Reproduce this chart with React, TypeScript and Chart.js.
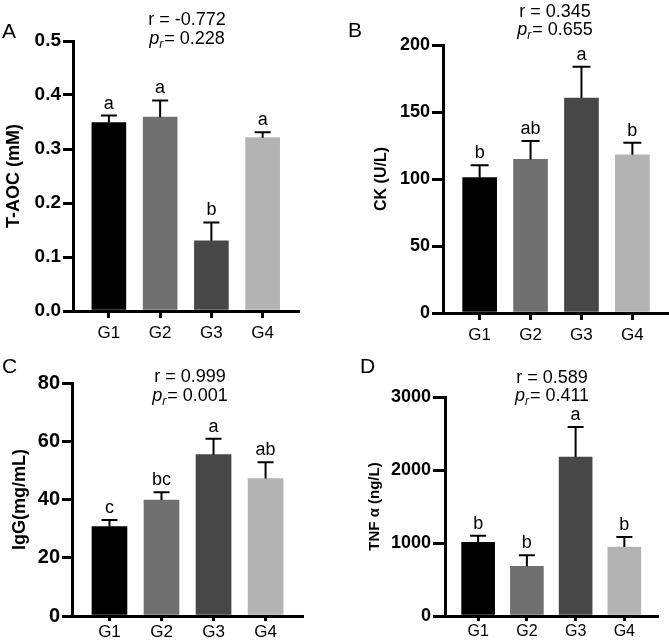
import React, { useEffect, useRef } from 'react';
import { Chart, registerables } from 'chart.js';

Chart.register(...registerables);

const W = 669;
const H = 644;
const FONT = '"Liberation Sans", Arial, Helvetica, sans-serif';

// ---------------- data ----------------
const groups = ['G1', 'G2', 'G3', 'G4'];
const barColors = ['#000000', '#707070', '#474747', '#b3b3b3'];

const taocMean = [0.349, 0.359, 0.13, 0.321];
const taocErr = [0.013, 0.031, 0.034, 0.01];
const taocLetters = ['a', 'a', 'b', 'a'];

const ckMean = [101, 114.6, 160.4, 118.1];
const ckErr = [9.2, 13.7, 23.4, 8.9];
const ckLetters = ['b', 'ab', 'a', 'b'];

const iggMean = [30.7, 39.8, 55.4, 47.2];
const iggErr = [2.3, 2.7, 5.5, 5.6];
const iggLetters = ['c', 'bc', 'a', 'ab'];

const tnfMean = [1009, 680, 2178, 945];
const tnfErr = [91, 151, 411, 137];
const tnfLetters = ['b', 'b', 'a', 'b'];

const panelLetters = ['A', 'B', 'C', 'D'];
const yTitles = ['T-AOC (mM)', 'CK (U/L)', 'IgG(mg/mL)', 'TNF \u03b1 (ng/L)'];
const rValues = ['-0.772', '0.345', '0.999', '0.589'];
const pValues = ['0.228', '0.655', '0.001', '0.411'];
const yMax = [0.5, 200, 80, 3000];
const yStep = [0.1, 50, 20, 1000];
const yDecimals = [1, 0, 0, 0];

const means = [taocMean, ckMean, iggMean, tnfMean];
const errs = [taocErr, ckErr, iggErr, tnfErr];
const letters = [taocLetters, ckLetters, iggLetters, tnfLetters];

// ---------------- layout ----------------
const layouts = [
  { left: 73, right: 298, top: 41, bottom: 311, xAxisH: 40, titleX: 14, titleSize: 18, tickSize: 19, yTickLen: 10, yTickPad: 2, xTickLen: 7, xTickPad: 5, xMin: -0.7, xMax: 3.69, barW: 34, headX: 187, head1Y: 25, head2Y: 44, letterX: 2, letterY: 38, xLabelSize: 17, capHalf: 8 },
  { left: 443, right: 668, top: 45, bottom: 313, xAxisH: 40, titleX: 382, titleSize: 16, tickSize: 18, yTickLen: 11, yTickPad: 2, xTickLen: 7, xTickPad: 5, xMin: -0.72, xMax: 3.7, barW: 34, headX: 555, head1Y: 17, head2Y: 35, letterX: 348, letterY: 37, xLabelSize: 17, capHalf: 9 },
  { left: 72, right: 302, top: 383, bottom: 616, xAxisH: 28, titleX: 20, titleSize: 18, tickSize: 20, yTickLen: 10, yTickPad: 2, xTickLen: 5, xTickPad: 1, xMin: -0.72, xMax: 3.7, barW: 35, headX: 190, head1Y: 382, head2Y: 401, letterX: 2, letterY: 373, xLabelSize: 17, capHalf: 8 },
  { left: 445, right: 657, top: 397, bottom: 616, xAxisH: 28, titleX: 374.5, titleSize: 15, tickSize: 18, yTickLen: 12, yTickPad: 2, xTickLen: 5, xTickPad: 1, xMin: -0.68, xMax: 3.67, barW: 33, headX: 552, head1Y: 383, head2Y: 401, letterX: 360, letterY: 373, xLabelSize: 16, capHalf: 8 },
];

function makeOverlay(idx: number) {
  const L = layouts[idx];
  return {
    id: 'overlay' + idx,
    afterDatasetsDraw(chart: any) {
      const ctx = chart.ctx;
      const xs = chart.scales.x;
      const ys = chart.scales.y;
      ctx.save();
      ctx.strokeStyle = '#000';
      ctx.lineWidth = 2;
      ctx.fillStyle = '#000';
      ctx.font = `18px ${FONT}`;
      ctx.textAlign = 'center';
      ctx.textBaseline = 'alphabetic';
      means[idx].forEach((m, i) => {
        const cx = xs.getPixelForValue(i);
        const y0 = ys.getPixelForValue(m);
        const y1 = ys.getPixelForValue(m + errs[idx][i]);
        ctx.beginPath();
        ctx.moveTo(cx, y0);
        ctx.lineTo(cx, y1);
        ctx.moveTo(cx - L.capHalf, y1);
        ctx.lineTo(cx + L.capHalf, y1);
        ctx.stroke();
        ctx.fillText(letters[idx][i], cx, y1 - 7);
      });
      ctx.restore();
    },
    afterDraw(chart: any) {
      const ctx = chart.ctx;
      ctx.save();
      ctx.fillStyle = '#000';
      ctx.textBaseline = 'alphabetic';
      // panel letter
      ctx.font = `21px ${FONT}`;
      ctx.textAlign = 'left';
      ctx.fillText(panelLetters[idx], L.letterX, L.letterY);
      // r line
      ctx.font = `18px ${FONT}`;
      ctx.textAlign = 'center';
      ctx.fillText(`r = ${rValues[idx]}`, L.headX, L.head1Y);
      // p_r line
      const fp = `italic 18px ${FONT}`;
      const fs = `italic 12px ${FONT}`;
      const fn = `18px ${FONT}`;
      const rest = `= ${pValues[idx]}`;
      ctx.font = fp;
      const wp = ctx.measureText('p').width;
      ctx.font = fs;
      const wr = ctx.measureText('r').width;
      ctx.font = fn;
      const wrest = ctx.measureText(rest).width;
      const total = wp + wr + 1 + wrest;
      let x = L.headX - total / 2;
      ctx.textAlign = 'left';
      ctx.font = fp;
      ctx.fillText('p', x, L.head2Y);
      x += wp;
      ctx.font = fs;
      ctx.fillText('r', x, L.head2Y + 4);
      x += wr + 1;
      ctx.font = fn;
      ctx.fillText(rest, x, L.head2Y);
      ctx.restore();
    },
  };
}

function makeConfig(idx: number): any {
  const L = layouts[idx];
  const half = (L.titleSize * 1.2) / 2;
  const padLeft = L.titleX - half;
  const yWidth = L.left - padLeft;
  const padBottom = H - L.bottom - L.xAxisH;
  return {
    type: 'bar',
    data: {
      datasets: [
        {
          data: means[idx].map((v, i) => ({ x: i, y: v })),
          backgroundColor: barColors,
          borderWidth: 0,
          barThickness: L.barW,
        },
      ],
    },
    plugins: [makeOverlay(idx)],
    options: {
      responsive: false,
      animation: false,
      devicePixelRatio: 1,
      layout: {
        padding: { left: padLeft, right: W - L.right, top: L.top, bottom: padBottom },
      },
      plugins: { legend: { display: false }, tooltip: { enabled: false }, title: { display: false } },
      scales: {
        x: {
          type: 'linear',
          min: L.xMin,
          max: L.xMax,
          offset: false,
          z: 1,
          afterBuildTicks: (s: any) => {
            s.ticks = groups.map((_, i) => ({ value: i }));
          },
          afterFit: (s: any) => {
            s.height = L.xAxisH;
          },
          ticks: {
            autoSkip: false,
            maxRotation: 0,
            color: '#000',
            padding: L.xTickPad,
            font: { family: FONT, size: L.xLabelSize },
            callback: (v: any) => groups[Math.round(v)],
          },
          grid: {
            offset: false,
            drawOnChartArea: false,
            drawTicks: true,
            tickLength: L.xTickLen,
            color: '#000',
            lineWidth: 3,
          },
          border: { display: true, color: '#000', width: 3 },
        },
        y: {
          type: 'linear',
          min: 0,
          max: yMax[idx],
          z: 1,
          afterFit: (s: any) => {
            s.width = yWidth;
          },
          ticks: {
            stepSize: yStep[idx],
            color: '#000',
            padding: L.yTickPad,
            font: { family: FONT, size: L.tickSize, weight: 'bold' },
            callback: (v: any) => Number(v).toFixed(yDecimals[idx]),
          },
          grid: {
            drawOnChartArea: false,
            drawTicks: true,
            tickLength: L.yTickLen,
            color: '#000',
            lineWidth: 3,
          },
          border: { display: true, color: '#000', width: 3 },
          title: {
            display: true,
            text: yTitles[idx],
            color: '#000',
            padding: 0,
            font: { family: FONT, size: L.titleSize, weight: 'bold', lineHeight: 1.2 },
          },
        },
      },
    },
  };
}

function Panel({ idx }: { idx: number }) {
  const ref = useRef<HTMLCanvasElement | null>(null);
  useEffect(() => {
    if (!ref.current) return;
    const chart = new Chart(ref.current, makeConfig(idx));
    return () => chart.destroy();
  }, [idx]);
  return (
    <canvas
      ref={ref}
      width={W}
      height={H}
      style={{ position: 'absolute', left: 0, top: 0, width: W, height: H }}
    />
  );
}

export default function App() {
  return (
    <div style={{ position: 'absolute', left: 0, top: 0, width: W, height: H, background: '#fff', overflow: 'hidden' }}>
      {[0, 1, 2, 3].map((i) => (
        <Panel key={i} idx={i} />
      ))}
    </div>
  );
}
